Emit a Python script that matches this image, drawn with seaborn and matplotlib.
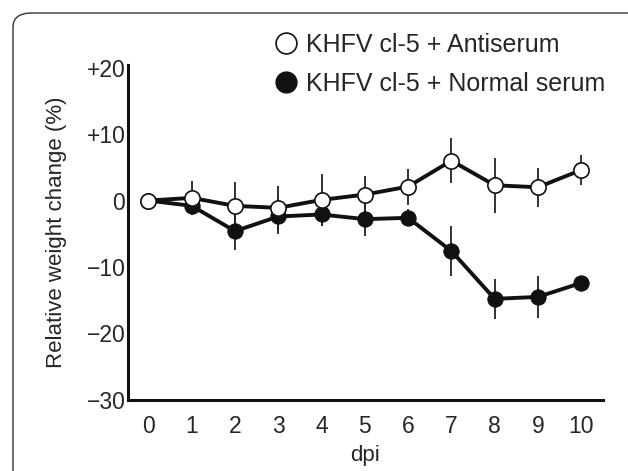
import numpy as np
import pandas as pd
import seaborn as sns
import matplotlib
matplotlib.use("Agg")
from matplotlib import pyplot as plt
from matplotlib.lines import Line2D
from matplotlib.patches import FancyBboxPatch

dpi_days = [0, 1, 2, 3, 4, 5, 6, 7, 8, 9, 10]
anti_mean = [0, 0.4, -0.8, -1.1, 0.1, 0.9, 2.1, 6.0, 2.3, 2.0, 4.6]
anti_err = [0, 2.6, 3.6, 3.3, 3.9, 2.8, 2.7, 3.4, 4.1, 2.9, 2.3]
normal_mean = [0, -0.8, -4.6, -2.4, -2.1, -2.8, -2.6, -7.6, -14.8, -14.5, -12.4]
normal_err = [0, 1.4, 2.8, 2.6, 1.8, 2.6, 1.3, 3.7, 3.0, 3.2, 0.6]
y_ticks = [20, 10, 0, -10, -20, -30]
y_tick_labels = ["+20", "+10", "0", "\u221210", "\u221220", "\u221230"]
labels = ["KHFV cl-5 + Antiserum", "KHFV cl-5 + Normal serum"]

sns.set_style("white")
plt.rcParams['font.family'] = ['Liberation Sans', 'DejaVu Sans']

fig = plt.figure(figsize=(6.28, 4.71), dpi=100)
ax = fig.add_axes([0.204, 0.151, 0.756, 0.711])

# frame of the journal panel
box = FancyBboxPatch((13 / 628, -0.1), 1.2, (471 - 13) / 471 + 0.1,
                     boxstyle="round,pad=0,rounding_size=0.03", transform=fig.transFigure,
                     fill=False, edgecolor="#333333", linewidth=1.0, clip_on=False)
fig.patches.append(box)

df = pd.DataFrame({"dpi": dpi_days * 2,
                   "change": normal_mean + anti_mean,
                   "group": [labels[1]] * 11 + [labels[0]] * 11})

# error bars
ax.errorbar(dpi_days, normal_mean, yerr=normal_err, fmt="none", ecolor="#222222",
            elinewidth=1.3, capsize=0, zorder=1)
ax.errorbar(dpi_days, anti_mean, yerr=anti_err, fmt="none", ecolor="#222222",
            elinewidth=1.3, capsize=0, zorder=1)

sns.lineplot(data=df[df.group == labels[1]], x="dpi", y="change", ax=ax, color="#111111",
             linewidth=2.8, marker="o", markersize=11, markerfacecolor="#111111",
             markeredgecolor="#111111", zorder=3, legend=False)
sns.lineplot(data=df[df.group == labels[0]], x="dpi", y="change", ax=ax, color="#111111",
             linewidth=2.8, marker="o", markersize=11, markerfacecolor="white",
             markeredgecolor="#111111", markeredgewidth=1.2, zorder=4, legend=False)

ax.set_xlim(-0.47, 10.5)
ax.set_ylim(-30, 20.4)
ax.set_xticks(dpi_days)
ax.set_xticklabels([str(d) for d in dpi_days], fontsize=16.5)
ax.set_xticks(np.array(dpi_days) + 0.5, minor=True)
ax.tick_params(axis="x", which="major", length=0, pad=11)
ax.tick_params(axis="x", which="minor", direction="in", length=5, width=1.8, color="#111111")
ax.set_yticks(y_ticks)
ax.set_yticklabels(y_tick_labels, fontsize=16.5)
ax.tick_params(axis="y", direction="in", length=5, width=1.8, color="#111111", pad=2)

for side in ["top", "right"]:
    ax.spines[side].set_visible(False)
for side in ["left", "bottom"]:
    ax.spines[side].set_linewidth(2.2)
    ax.spines[side].set_color("#111111")

ax.set_xlabel("dpi", fontsize=16, labelpad=5)
ax.set_ylabel("Relative weight change (%)", fontsize=16, labelpad=14)

handles = [Line2D([], [], linestyle="none", marker="o", markersize=15, markerfacecolor="white",
                  markeredgecolor="#111111", markeredgewidth=1.2),
           Line2D([], [], linestyle="none", marker="o", markersize=15, markerfacecolor="#111111",
                  markeredgecolor="#111111")]
fig.legend(handles, labels, loc="upper left", bbox_to_anchor=(0.40, 0.978), frameon=False,
           fontsize=18, handletextpad=0.3, labelspacing=0.6, handlelength=1.0)

fig.savefig("out.png", dpi=100)
